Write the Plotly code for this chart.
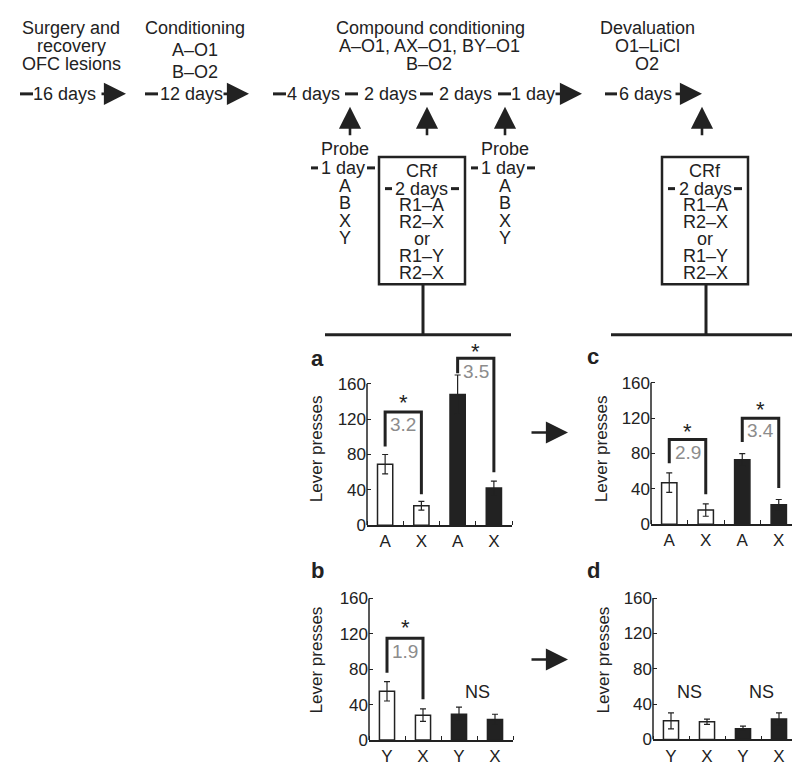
import plotly.graph_objects as go

W, H = 800, 772
FONT = "Liberation Sans, Arial, Helvetica, sans-serif"
INK = "#222222"
GREY = "#8c8c8c"

# ---- data ----
cats_a = ["A", "X", "A", "X"]
cats_b = ["Y", "X", "Y", "X"]
a_vals = [69, 22, 148, 42]
a_err = [11, 5, 22, 8]
c_vals = [47, 16, 73, 22]
c_err = [11, 7, 7, 6]
b_vals = [55, 28, 29, 23]
b_err = [11, 7, 8, 6]
d_vals = [21, 20, 12, 23]
d_err = [9, 3, 3, 7]
bar_fill = ["white", "white", INK, INK]
y_ticks = [0, 40, 80, 120, 160]

# brackets: (x left, y left end, x right, y right end, y top, ratio, y ratio, y star)
a_brackets = [(0, 89, 1, 35, 128, "3.2", 114, 144), (2, 172, 3, 60, 189, "3.5", 174, 202)]
c_brackets = [(0, 69, 1, 34, 96, "2.9", 81, 110), (2, 93, 3, 41, 120, "3.4", 106, 135)]
b_brackets = [(0, 76, 1, 46, 115, "1.9", 100, 132)]
b_ns = [(2.5, 54)]
d_ns = [(0.5, 54), (2.5, 54)]


def fx(px):
    return px / W


def fy(py):
    return 1 - py / H


fig = go.Figure()
shapes = []
annos = []


def text(x, y, s, size=18, color=INK, bold=False, angle=0):
    if bold:
        s = "<b>" + s + "</b>"
    annos.append(dict(x=fx(x), y=fy(y), xref="paper", yref="paper", text=s, showarrow=False,
                      xanchor="center", yanchor="middle", textangle=angle,
                      font=dict(family=FONT, size=size, color=color)))


def line(x0, y0, x1, y1, w=3):
    shapes.append(dict(type="line", xref="paper", yref="paper", x0=fx(x0), y0=fy(y0),
                       x1=fx(x1), y1=fy(y1), line=dict(color=INK, width=w)))


def arrow(x0, y0, x1, y1):
    annos.append(dict(x=fx(x1), y=fy(y1), xref="paper", yref="paper",
                      ax=x0 - x1, ay=y0 - y1, axref="pixel", ayref="pixel", text="",
                      showarrow=True, arrowhead=2, arrowsize=1.7, arrowwidth=2.6,
                      arrowcolor=INK))


# ---- bar panels ----
panels = [
    ("", cats_a, a_vals, a_err, (359, 504), (336, 524), a_brackets, []),
    ("2", cats_b, b_vals, b_err, (361, 505), (553.5, 741.5), b_brackets, b_ns),
    ("3", cats_a, c_vals, c_err, (643, 789), (335, 523), c_brackets, []),
    ("4", cats_b, d_vals, d_err, (645, 789), (553, 741), [], d_ns),
]
for sfx, cats, vals, err, (xl, xr), (yt, yb), brackets, ns in panels:
    xa, ya = "x" + sfx, "y" + sfx
    fig.add_trace(go.Bar(
        x=list(range(len(vals))), y=vals, xaxis=xa, yaxis=ya,
        marker=dict(color=bar_fill, line=dict(color=INK, width=1.5)),
        error_y=dict(type="data", array=err, color=INK, thickness=1.2, width=3),
        showlegend=False))
    for (x0, y0, x1, y1, top, ratio, yr, ys) in brackets:
        fig.add_trace(go.Scatter(
            x=[x0, x0, x1, x1], y=[y0, top, top, y1], xaxis=xa, yaxis=ya, mode="lines",
            line=dict(color=INK, width=3), showlegend=False, hoverinfo="skip"))
        annos.append(dict(x=(x0 + x1) / 2, y=yr, xref=xa, yref=ya, text=ratio, showarrow=False,
                          font=dict(family=FONT, size=19, color=GREY)))
        annos.append(dict(x=(x0 + x1) / 2, y=ys - 5, xref=xa, yref=ya, text="*", showarrow=False,
                          font=dict(family=FONT, size=22, color=INK)))
    for (xn, yn) in ns:
        annos.append(dict(x=xn, y=yn, xref=xa, yref=ya, text="NS", showarrow=False,
                          font=dict(family=FONT, size=18, color=INK)))
    shapes.append(dict(type="line", xref=xa + " domain", yref=ya, x0=0, x1=0, y0=0, y1=160,
                       line=dict(color=INK, width=1.5)))
    fig.layout["xaxis" + sfx] = dict(
        domain=[fx(xl), fx(xr)], anchor=ya, range=[-0.5, 3.5],
        tickvals=list(range(len(cats))), ticktext=cats, ticks="",
        showline=True, linecolor=INK, linewidth=1.5, showgrid=False, zeroline=False,
        minor=dict(ticks="inside", tick0=0.5, dtick=1, ticklen=4, tickcolor=INK, tickwidth=1.2),
        tickfont=dict(family=FONT, size=17, color=INK), fixedrange=True)
    fig.layout["yaxis" + sfx] = dict(
        domain=[fy(yb), fy(yt)], anchor=xa, range=[0, 210],
        tickvals=y_ticks, ticks="inside", ticklen=4, tickcolor=INK, tickwidth=1.2,
        showline=False, showgrid=False, zeroline=False,
        tickfont=dict(family=FONT, size=17, color=INK), fixedrange=True)

# axis titles and panel letters
for (x, y) in [(308, 447), (308, 661), (593, 447), (595, 661)]:
    text(x, y, "Lever presses", size=17, angle=-90)
for (x, y, s) in [(309, 355, "a"), (309, 570, "b"), (585, 353, "c"), (585, 570, "d")]:
    text(x, y, s, size=22, bold=True)

# ---- schematic ----
text(63, 20, "Surgery and")
text(63, 38, "recovery")
text(63, 57, "OFC lesions")
text(187, 20, "Conditioning")
text(187, 43, "A–O1")
text(187, 65, "B–O2")
text(422, 20, "Compound conditioning")
text(421, 38, "A–O1, AX–O1, BY–O1")
text(421, 57, "B–O2")
text(639, 20, "Devaluation")
text(639, 38, "O1–LiCl")
text(639, 57, "O2")

# timeline
TY = 87
line(12, TY, 25, TY)
text(57, TY, "16 days")
arrow(92, TY, 118, TY)
line(137, TY, 150, TY)
text(183, TY, "12 days")
arrow(214, TY, 241, TY)
line(265, TY, 278, TY)
text(305, TY, "4 days")
line(337, TY, 350, TY)
text(382, TY, "2 days")
line(412, TY, 425, TY)
text(457, TY, "2 days")
line(490, TY, 503, TY)
text(525, TY, "1 day")
arrow(546, TY, 574, TY)
line(597, TY, 609, TY)
text(637, TY, "6 days")
arrow(666, TY, 694, TY)

# upward arrows
for x in [342, 419, 497, 694]:
    arrow(x, 130, x, 100)

# probes
for cx in [337, 497]:
    text(cx, 143, "Probe")
    text(cx - 2, 162, "1 day")
    line(cx - 34, 162, cx - 27, 162)
    line(cx + 22, 162, cx + 30, 162)
    for i, s in enumerate(["A", "B", "X", "Y"]):
        text(cx, 180 + i * 17.7, s)

# CRf boxes
for cx in [414, 697]:
    shapes.append(dict(type="rect", xref="paper", yref="paper", x0=fx(cx - 43), x1=fx(cx + 43),
                       y0=fy(280), y1=fy(151), line=dict(color=INK, width=2.5)))
    text(cx, 165, "CRf")
    text(cx, 183, "2 days")
    line(cx - 37, 183, cx - 30, 183)
    line(cx + 29, 183, cx + 37, 183)
    for i, s in enumerate(["R1–A", "R2–X", "or", "R1–Y", "R2–X"]):
        text(cx, 200 + i * 17, s)
    line(cx + 1, 280, cx + 1, 331)

line(317, 331, 503, 331)
line(603, 331, 788, 331)

# arrows between panels
arrow(522, 430, 560, 430)
arrow(522, 660, 560, 660)

fig.update_layout(
    width=W, height=H, margin=dict(l=0, r=0, t=0, b=0),
    plot_bgcolor="white", paper_bgcolor="white",
    bargap=0.58, shapes=shapes, annotations=annos,
    font=dict(family=FONT, color=INK))

fig.write_html("out.html")
